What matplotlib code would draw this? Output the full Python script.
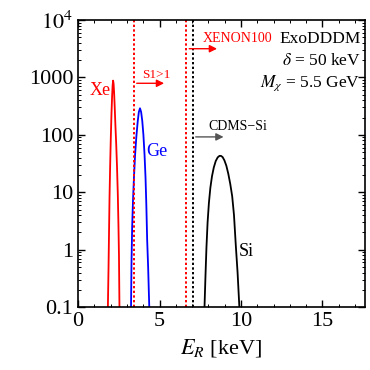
import matplotlib
matplotlib.use("Agg")
import matplotlib.pyplot as plt
from matplotlib.ticker import MultipleLocator, LogLocator, NullFormatter

plt.rcParams["font.family"] = ["Liberation Serif", "DejaVu Serif"]
plt.rcParams["mathtext.fontset"] = "stix"

# recoil spectra
xe_E = [1.83, 1.87, 1.90, 1.93, 1.97, 2.01, 2.05, 2.09, 2.12, 2.15, 2.18, 2.21, 2.25, 2.29, 2.34, 2.39, 2.44, 2.48, 2.51, 2.54]
xe_rate = [0.1, 0.5, 2, 8, 30, 90, 230, 480, 720, 880, 780, 560, 300, 150, 70, 28, 9, 2.5, 0.8, 0.1]

ge_E = [3.25, 3.28, 3.32, 3.37, 3.43, 3.50, 3.58, 3.66, 3.73, 3.80, 3.87, 3.94, 4.01, 4.08, 4.14, 4.19, 4.24, 4.30, 4.37]
ge_rate = [0.1, 0.6, 2.5, 7, 18, 45, 95, 170, 250, 290, 250, 175, 100, 45, 18, 6, 1.5, 0.5, 0.1]

si_E = [7.76, 7.82, 7.88, 7.95, 8.03, 8.12, 8.22, 8.33, 8.45, 8.57, 8.68, 8.77, 8.87, 8.98, 9.10, 9.22, 9.34, 9.46, 9.57, 9.68, 9.79, 9.90]
si_rate = [0.1, 0.35, 1.1, 3, 6.5, 12, 19, 27, 35, 40.5, 43, 43, 41, 36, 29, 21, 14, 8.5, 4, 1.2, 0.4, 0.1]

# thresholds (keV)
s1_thr = 3.43
xenon_thr = 6.65
cdms_thr = 7.05

yticks = [0.1, 1, 10, 100, 1000, 1e4]
ylabels = ["0.1", "1", "10", "100", "1000", "$10^4$"]

fig = plt.figure(figsize=(3.7, 3.7), dpi=100)
ax = fig.add_axes([0.211, 0.170, 0.775, 0.776])

ax.plot(xe_E, xe_rate, color="red", lw=1.3)
ax.plot(ge_E, ge_rate, color="blue", lw=1.3)
ax.plot(si_E, si_rate, color="black", lw=1.3)

ax.axvline(s1_thr, color="red", ls=(0, (1.2, 1.2)), lw=1.4)
ax.axvline(xenon_thr, color="red", ls=(0, (1.2, 1.2)), lw=1.4)
ax.axvline(cdms_thr, color="black", ls=(0, (1.2, 1.2)), lw=1.4)

arrow = dict(arrowstyle="-|>", mutation_scale=11, lw=1.0)
ax.annotate("", xy=(5.45, 790), xytext=(s1_thr, 790),
            arrowprops=dict(arrow, color="red"))
ax.annotate("", xy=(8.7, 3160), xytext=(xenon_thr, 3160),
            arrowprops=dict(arrow, color="red"))
ax.annotate("", xy=(9.1, 92), xytext=(cdms_thr, 92),
            arrowprops=dict(arrow, color="#555555"))

ax.text(4.8, 1100, "S1>1", color="red", fontsize=9.5, ha="center", va="center")
ax.text(9.8, 4800, "XENON100", color="red", fontsize=10, ha="center", va="center")
ax.text(9.8, 140, "CDMS\u2212Si", color="black", fontsize=10, ha="center", va="center")

ax.text(1.35, 600, "Xe", color="red", fontsize=13, ha="center", va="center")
ax.text(4.85, 51, "Ge", color="blue", fontsize=13, ha="center", va="center")
ax.text(10.3, 0.92, "Si", color="black", fontsize=13, ha="center", va="center")

ax.text(0.985, 0.935, "ExoDDDM", transform=ax.transAxes, fontsize=12.5, ha="right", va="center")
ax.text(0.985, 0.858, r"$\delta$ = 50 keV", transform=ax.transAxes, fontsize=12.5, ha="right", va="center")
ax.text(0.985, 0.78, r"$M_\chi$ = 5.5 GeV", transform=ax.transAxes, fontsize=12.5, ha="right", va="center")

ax.set_yscale("log")
ax.set_xlim(0, 17.6)
ax.set_ylim(0.1, 1e4)
ax.set_yticks(yticks)
ax.set_yticklabels(ylabels)
ax.yaxis.set_minor_locator(LogLocator(base=10, subs=range(2, 10)))
ax.yaxis.set_minor_formatter(NullFormatter())
ax.xaxis.set_major_locator(MultipleLocator(5))
ax.xaxis.set_minor_locator(MultipleLocator(1))

ax.tick_params(which="both", direction="in", top=True, right=True, labelsize=16)
ax.tick_params(which="major", length=5, width=1)
ax.tick_params(which="minor", length=2.5, width=0.7)
for s in ax.spines.values():
    s.set_linewidth(1.2)

ax.set_xlabel(r"$E_R$ [keV]", fontsize=16)

fig.savefig("out.png", dpi=100)
